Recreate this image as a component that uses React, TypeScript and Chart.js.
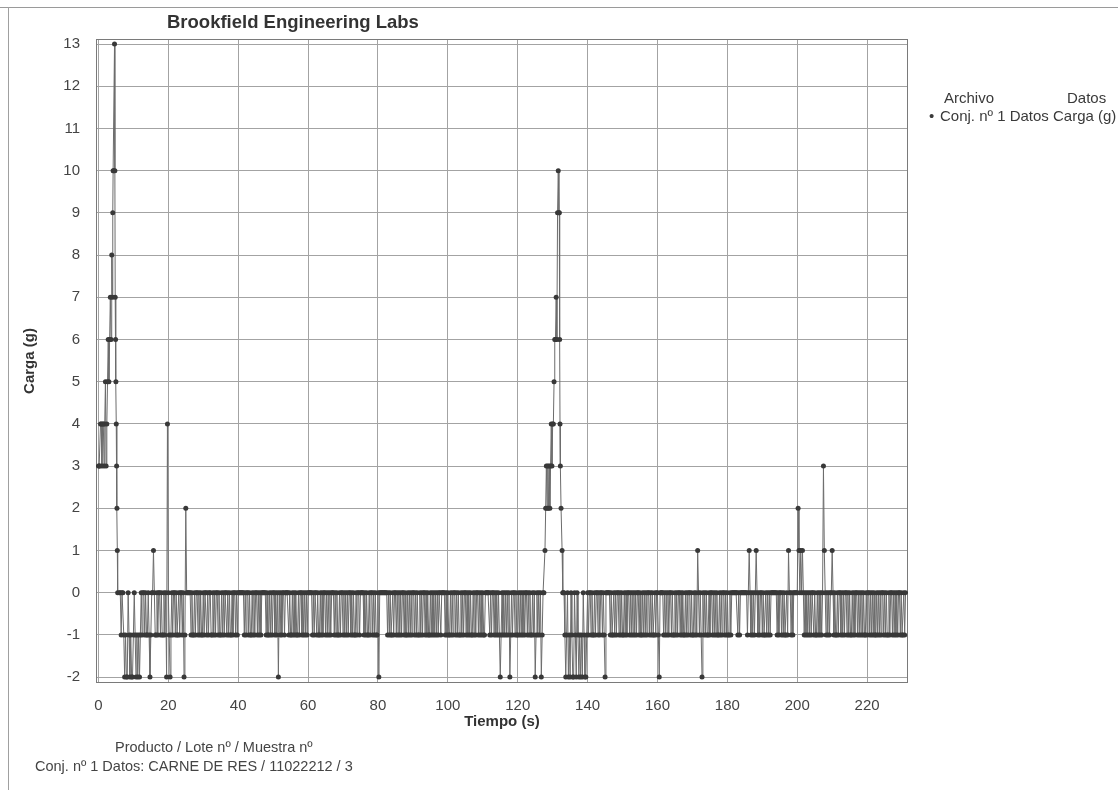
import React, { useEffect, useRef } from "react";
import { Chart, registerables } from "chart.js";

Chart.register(...registerables);

// ---- data ----
// first loading peak (time in s, load in g)
const peak1Time = [0.0, 0.2, 0.4, 0.6, 0.8, 1.0, 1.2, 1.4, 1.6, 1.8, 2.0, 2.2, 2.4, 2.6, 2.8, 3.0, 3.2, 3.4, 3.6, 3.8, 4.0, 4.1, 4.2, 4.4, 4.6, 4.7, 4.8, 4.9, 5.0, 5.1, 5.2, 5.3, 5.4, 5.5];
const peak1Load = [3, 3, 3, 4, 4, 3, 4, 4, 3, 4, 5, 3, 4, 5, 6, 5, 6, 7, 6, 8, 7, 9, 10, 10, 13, 10, 7, 6, 5, 4, 3, 2, 1, 0];

// second loading peak
const peak2Time = [127.8, 128.0, 128.2, 128.4, 128.6, 128.8, 129.0, 129.2, 129.4, 129.6, 129.8, 130.0, 130.2, 130.4, 130.6, 130.8, 131.0, 131.2, 131.4, 131.6, 131.8, 131.9, 132.0, 132.1, 132.2, 132.4, 132.7, 132.9];
const peak2Load = [1, 2, 3, 2, 3, 2, 3, 2, 3, 4, 3, 4, 4, 5, 6, 6, 7, 6, 9, 10, 9, 9, 6, 4, 3, 2, 1, 0];

// baseline readings, one character per 0.25 s sample: "=" -2, "-" -1, "0" 0, digits positive
const sampleStep = 0.25;
const baselineAStart = 6.0;
const baselineACodes = [
  "00-00-=-==0-=-==-0-=", "-=-=-0-00-0--0-=-001", "0--0-00-0--0-0=40-=-", "0-00-0--0-00-0=-2000",
  "00-0--0-00-0-0--0-00", "-0-00--0-0-00-0--0-0", "-00-0-0--0-00-0-0000", "000-0-00-0--0-0-00-0",
  "-0-00000-0--0-0-00-0", "-0=0-0-00-0000-0--0-", "0-0--0-00-0-0-0-0000", "0-0-00-0--0-0-00-0-0",
  "-0-000-0-0--0-00-0-0", "-0-00-0-0--0-00-0000", "-0-0--0-00-0-0--0=00", "0000000-0-0--0-00-0-",
  "0-0-00-0--0-0-0-00-0", "-0--0-0-00-0-0--0-0-", "0-0-0-00-0000-0-0--0", "-0-00-0-0--0-0-00-0-",
  "0-0--0-0-00-0-0-0--0", "0000-0-00-0-0-0-=-0-", "0-0-0-0=-0-00-0--0-0", "-0-0-00-0-0--0-0=-0-",
  "0-0=-00",
].join("");
const baselineBStart = 133.0;
const baselineBCodes = [
  "00-=-0=-=0-==0-=0-=-", "=-=0-==-0-00-0--0-00", "-0-00-0-=00000-0--0-", "0-00-0-0--0-0-00-0-0",
  "-0-0-00-0--0-0-0-00-", "0-0--0-00-=0000-0-0-", "0-00-0--0-0-00-0-0--", "0-0-00-0--0-0-10-0-=",
  "0-0-0--0-00-0-0-0--0", "-0-00-0-0--0-0000000", "-0-00000000-010-0-0-", "010-0-00-0--0-0-0-00",
  "00000-0-00-0-0--0-10", "0-0-000002101010-0-0", "-0-0-00-0--0-0-0-031", "0-0-0-0010-0--0-00-0",
  "-0-00-0-0--0-0-00-0-", "0-0-0--0-00-0-0-0--0", "-0-0-00-0-0--0-00-0-", "0-0-00-0--0-0",
].join("");
const codeValue: Record<string, number> = {
  "=": -2, "-": -1, "0": 0, "1": 1, "2": 2, "3": 3, "4": 4, "5": 5, "6": 6, "7": 7, "8": 8, "9": 9,
};

const xTickValues = [0, 20, 40, 60, 80, 100, 120, 140, 160, 180, 200, 220];
const yTickValues = [-2, -1, 0, 1, 2, 3, 4, 5, 6, 7, 8, 9, 10, 11, 12, 13];

const FONT = "'Liberation Sans', Arial, sans-serif";

function decode(start: number, codes: string) {
  return codes.split("").map((c, i) => ({ x: start + i * sampleStep, y: codeValue[c] }));
}

function buildPoints() {
  const p1 = peak1Time.map((t, i) => ({ x: t, y: peak1Load[i] }));
  const p2 = peak2Time.map((t, i) => ({ x: t, y: peak2Load[i] }));
  return [...p1, ...decode(baselineAStart, baselineACodes), ...p2, ...decode(baselineBStart, baselineBCodes)];
}

const framePlugin = {
  id: "frame",
  beforeDatasetsDraw(chart: any) {
    const { ctx, chartArea } = chart;
    const { left, top, right, bottom } = chartArea;
    ctx.save();
    ctx.strokeStyle = "#7a7a7a";
    ctx.lineWidth = 1;
    ctx.strokeRect(Math.round(left) + 0.5, Math.round(top) + 0.5, Math.round(right - left) - 1, Math.round(bottom - top) - 1);
    ctx.restore();
  },
};

export default function App() {
  const ref = useRef<HTMLCanvasElement | null>(null);

  useEffect(() => {
    if (!ref.current) return;
    const chart = new Chart(ref.current, {
      type: "line",
      data: {
        datasets: [
          {
            label: "Carga (g)",
            data: buildPoints(),
            borderColor: "#6c6c6c",
            borderWidth: 1,
            pointRadius: 2.5,
            pointBorderWidth: 0,
            pointBackgroundColor: "#383838",
            pointHoverRadius: 2.5,
            tension: 0,
            fill: false,
          },
        ],
      },
      options: {
        animation: false,
        responsive: false,
        devicePixelRatio: 1,
        events: [],
        layout: { padding: { left: 0, top: 39, right: 210, bottom: 0 } },
        plugins: {
          legend: { display: false },
          tooltip: { enabled: false },
          title: { display: false },
        },
        scales: {
          x: {
            type: "linear",
            min: -0.7,
            max: 231.7,
            afterFit: (s: any) => {
              s.height = 107;
            },
            afterBuildTicks: (s: any) => {
              s.ticks = xTickValues.map((v) => ({ value: v }));
            },
            ticks: {
              padding: 14,
              color: "#444",
              font: { family: FONT, size: 15 },
              maxRotation: 0,
              autoSkip: false,
            },
            grid: { color: "#a3a3a3", drawTicks: false, lineWidth: 1 },
            border: { display: false },
            title: {
              display: true,
              text: "Tiempo (s)",
              color: "#333",
              font: { family: FONT, size: 15, weight: "bold" },
              padding: { top: 0, bottom: 59 },
            },
          },
          y: {
            type: "linear",
            min: -2.14,
            max: 13.12,
            afterFit: (s: any) => {
              s.width = 96;
            },
            afterBuildTicks: (s: any) => {
              s.ticks = yTickValues.map((v) => ({ value: v }));
            },
            ticks: {
              padding: 16,
              color: "#444",
              font: { family: FONT, size: 15 },
              autoSkip: false,
            },
            grid: { color: "#a3a3a3", drawTicks: false, lineWidth: 1 },
            border: { display: false },
            title: {
              display: true,
              text: "Carga (g)",
              color: "#333",
              font: { family: FONT, size: 15, weight: "bold" },
              padding: { top: 21, bottom: 0 },
            },
          },
        },
      },
      plugins: [framePlugin],
    });
    return () => chart.destroy();
  }, []);

  const txt = (extra: React.CSSProperties): React.CSSProperties => ({
    position: "absolute",
    fontFamily: FONT,
    whiteSpace: "nowrap",
    color: "#3a3a3a",
    ...extra,
  });

  return (
    <div style={{ position: "absolute", left: 0, top: 0, width: 1118, height: 790, background: "#fff", overflow: "hidden" }}>
      <canvas ref={ref} width={1118} height={790} style={{ position: "absolute", left: 0, top: 0 }} />
      <div style={{ position: "absolute", left: 0, top: 7, width: 1118, height: 0, borderTop: "1px solid #9a9a9a" }} />
      <div style={{ position: "absolute", left: 8, top: 7, width: 0, height: 783, borderLeft: "1px solid #a0a0a0" }} />
      <div style={txt({ left: 167, top: 12, fontSize: 18.5, lineHeight: "20px", fontWeight: "bold", color: "#333" })}>
        Brookfield Engineering Labs
      </div>
      <div style={txt({ left: 944, top: 89, fontSize: 15, lineHeight: "17px" })}>Archivo</div>
      <div style={txt({ left: 1067, top: 89, fontSize: 15, lineHeight: "17px" })}>Datos</div>
      <div style={txt({ left: 929, top: 107, fontSize: 15, lineHeight: "17px" })}>•</div>
      <div style={txt({ left: 940, top: 107, fontSize: 15, lineHeight: "17px" })}>Conj. nº 1 Datos</div>
      <div style={txt({ left: 1053, top: 107, fontSize: 15, lineHeight: "17px" })}>Carga (g)</div>
      <div style={txt({ left: 115, top: 739, fontSize: 14.5, lineHeight: "17px", color: "#444" })}>
        Producto / Lote nº / Muestra nº
      </div>
      <div style={txt({ left: 35, top: 758, fontSize: 14.5, lineHeight: "17px", color: "#444" })}>
        Conj. nº 1 Datos: CARNE DE RES / 11022212 / 3
      </div>
    </div>
  );
}
